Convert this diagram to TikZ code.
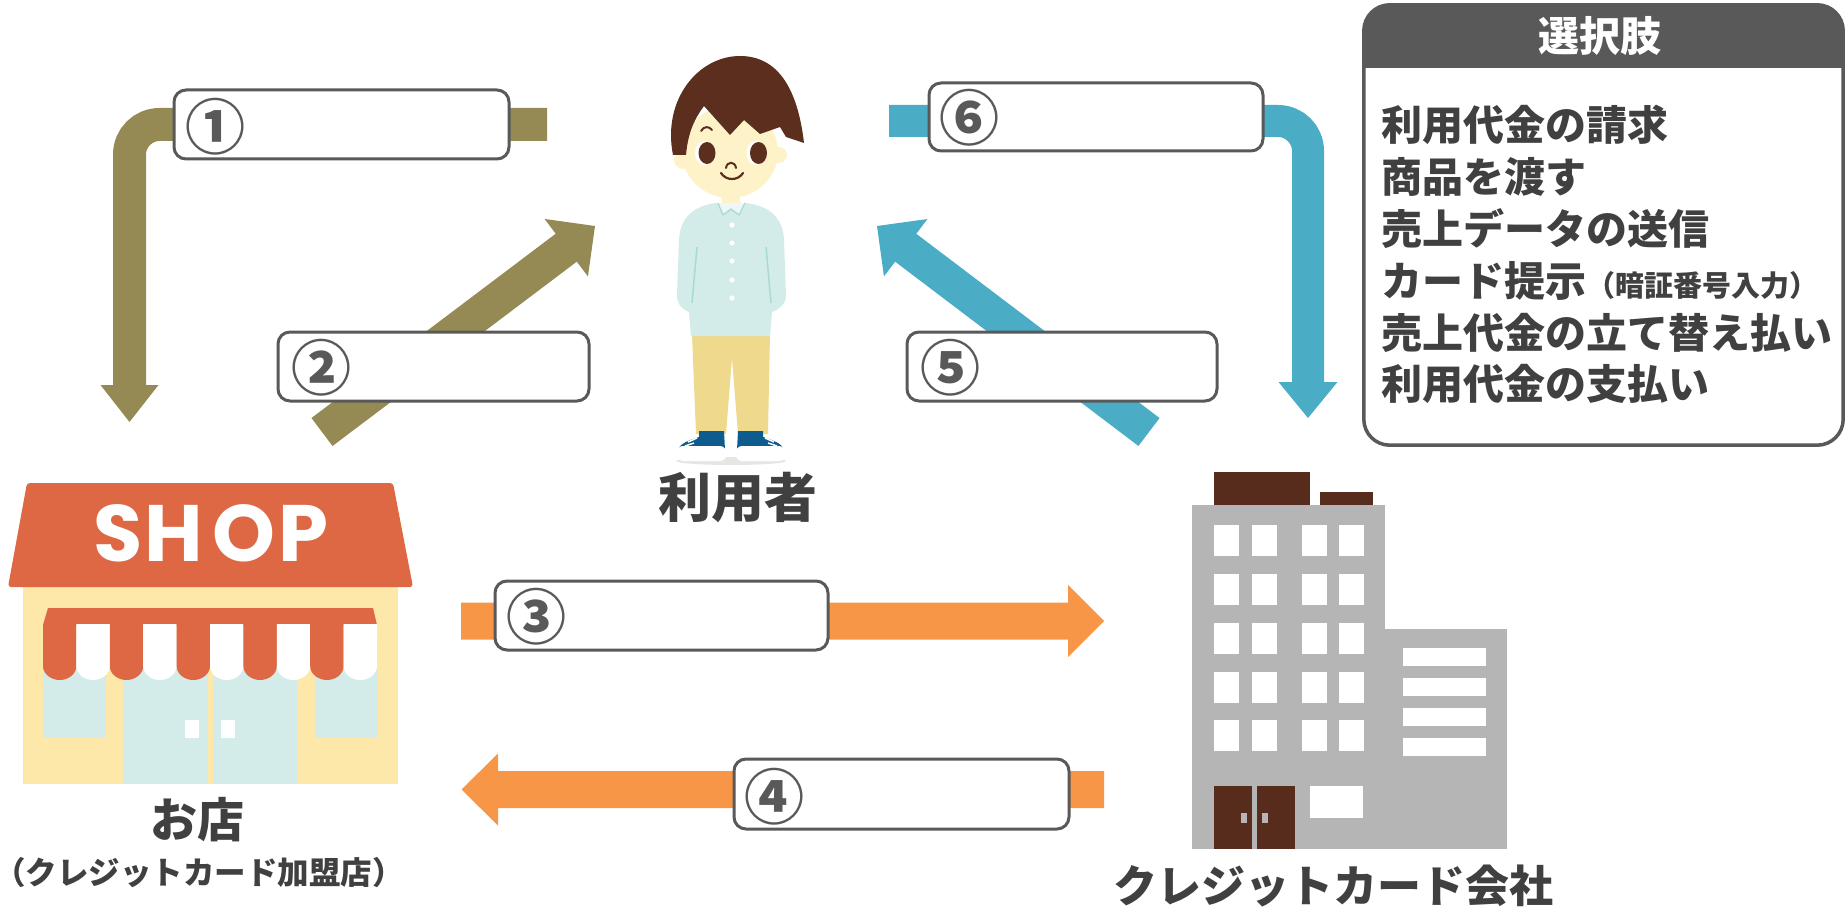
\documentclass[tikz,border=0pt]{standalone}
\usepackage{fontspec}
\usetikzlibrary{calc}
\newfontfamily\jpfont{Noto Sans CJK JP}
\newfontfamily\shopfont{Poppins}

\definecolor{txtgray}{HTML}{404040}
\definecolor{boxgray}{HTML}{595959}
\definecolor{olivearrow}{HTML}{958A53}
\definecolor{bluearrow}{HTML}{4BACC6}
\definecolor{orangearrow}{HTML}{F79646}
\definecolor{shopred}{HTML}{DE6744}
\definecolor{shopwall}{HTML}{FDE7A9}
\definecolor{glass}{HTML}{D4ECE9}
\definecolor{bldgray}{HTML}{B4B5B4}
\definecolor{bldbrown}{HTML}{572C1D}
\definecolor{hair}{HTML}{5B2E1E}
\definecolor{skin}{HTML}{FEF3C8}
\definecolor{shirt}{HTML}{D4ECE9}
\definecolor{shirtline}{HTML}{A9D9D3}
\definecolor{pants}{HTML}{EED98D}
\definecolor{shoe}{HTML}{0E5B8E}
\definecolor{floorshade}{HTML}{E8E6E3}

% straight block arrow: colour, tail, tip, half shaft, half head, head length
\newcommand\fatarrow[6]{%
  \fill[#1] ($(#2)!#4!90:(#3)$) -- ($(#3)!#6!(#2)!#4!90:(#3)$)
    -- ($(#3)!#6!(#2)!#5!90:(#3)$) -- (#3)
    -- ($(#3)!#6!(#2)!#5!-90:(#3)$) -- ($(#3)!#6!(#2)!#4!-90:(#3)$)
    -- ($(#2)!#4!-90:(#3)$) -- cycle;}

\tikzset{
  lbl/.style={font=\jpfont\bfseries, text=txtgray, inner sep=0pt},
  numbox/.style={draw=boxgray, line width=3pt, fill=white, rounded corners=12pt,
    inner sep=0pt, minimum height=69pt},
  circnum/.style={font=\jpfont\bfseries\fontsize{60}{60}\selectfont, text=boxgray, inner sep=0pt},
  optline/.style={font=\jpfont\bfseries\fontsize{41}{41}\selectfont, text=txtgray,
    inner sep=0pt, anchor=west},
  shopletter/.style={font=\shopfont\bfseries\fontsize{80}{80}\selectfont, text=white, inner sep=0pt},
}

\begin{document}
\begin{tikzpicture}[x=1pt,y=-1pt]
\useasboundingbox (0,0) rectangle (1845,923);

% ---------- arrows ----------
% 1: user -> shop (bent)
\coordinate (a1s) at (547,124.5);
\coordinate (a1c) at (129.5,124.5);
\coordinate (a1b) at (129.5,386);
\coordinate (a1t) at (129.5,422);
\draw[olivearrow, line width=33pt, rounded corners=30pt] (a1s) -- (a1c) -- (a1b);
\fill[olivearrow] ($(a1b)+(-29,-1)$) -- ($(a1b)+(29,-1)$) -- (a1t) -- cycle;

% 2: shop -> user
\coordinate (a2s) at (322,432);
\coordinate (a2t) at (595,226);
\fatarrow{olivearrow}{a2s}{a2t}{17.5pt}{36pt}{36pt}

% 3: shop -> card company
\coordinate (a3s) at (461,621);
\coordinate (a3t) at (1104,621);
\fatarrow{orangearrow}{a3s}{a3t}{18.5pt}{36pt}{36pt}

% 4: card company -> shop
\coordinate (a4s) at (1104,789.5);
\coordinate (a4t) at (461.5,789.5);
\fatarrow{orangearrow}{a4s}{a4t}{18.5pt}{36pt}{36.5pt}

% 5: card company -> user
\coordinate (a5s) at (1149,432);
\coordinate (a5t) at (877,226);
\fatarrow{bluearrow}{a5s}{a5t}{17.5pt}{36pt}{36pt}

% 6: card company -> user (bent)
\coordinate (a6s) at (889,121);
\coordinate (a6c) at (1308,121);
\coordinate (a6b) at (1308,383);
\coordinate (a6t) at (1308,418);
\draw[bluearrow, line width=32pt, rounded corners=30pt] (a6s) -- (a6c) -- (a6b);
\fill[bluearrow] ($(a6b)+(-29.5,-1)$) -- ($(a6b)+(29.5,-1)$) -- (a6t) -- cycle;

% ---------- answer boxes ----------
\node[numbox, minimum width=335pt] (b1) at (341.5,124.5) {};
\node[numbox, minimum width=311pt] (b2) at (433.5,366.5) {};
\node[numbox, minimum width=333pt] (b3) at (661.5,615.5) {};
\node[numbox, minimum width=335pt, minimum height=70pt] (b4) at (901.5,794) {};
\node[numbox, minimum width=310pt] (b5) at (1062,366.5) {};
\node[numbox, minimum width=334pt, minimum height=68pt] (b6) at (1096,117) {};
\node[circnum] (n1) at ($(b1.west)+(43,2.5)$) {①};
\node[circnum] (n2) at ($(b2.west)+(45,1.5)$) {②};
\node[circnum] (n3) at ($(b3.west)+(43,1.5)$) {③};
\node[circnum] (n4) at ($(b4.west)+(42,3)$) {④};
\node[circnum] (n5) at ($(b5.west)+(45,1.5)$) {⑤};
\node[circnum] (n6) at ($(b6.west)+(42,1)$) {⑥};

% ---------- shop ----------
\fill[shopwall] (23,585) rectangle (398,784);
\fill[glass] (43,640) rectangle (106,738);
\fill[glass] (315,640) rectangle (378,738);
\fill[glass] (123,640) rectangle (297,784);
\fill[shopwall] (208,640) rectangle (213,784);
\fill[white] (185,720) rectangle (199,738);
\fill[white] (221,720) rectangle (235,738);
% awning
\fill[shopred] (48,608) -- (373,608) -- (377,625) -- (43,625) -- cycle;
\foreach \i in {0,...,9} {
  \pgfmathsetmacro\xa{43+33.4*\i}
  \pgfmathsetmacro\xb{\xa+33.4}
  \pgfmathsetmacro\xm{\xa+16.7}
  \ifodd\i \def\stripecol{white}\else\def\stripecol{shopred}\fi
  \fill[\stripecol] (\xa,624) -- (\xa,666) .. controls (\xa,674) and (\xa+8,680) .. (\xm,680)
    .. controls (\xb-8,680) and (\xb,674) .. (\xb,666) -- (\xb,624) -- cycle;
}
% roof with sign
\fill[shopred, rounded corners=3pt] (27,483) -- (393,483) -- (413,587) -- (8,587) -- cycle;
\node[shopletter] (sS) at (118,533) {S};
\node[shopletter] (sH) at (174,533) {H};
\node[shopletter] (sO) at (244,533) {O};
\node[shopletter] (sP) at (303,533) {P};
\node[lbl, font=\jpfont\bfseries\fontsize{47}{47}\selectfont] (shopname) at (197,820) {お店};
\node[lbl, font=\jpfont\bfseries\fontsize{31.5}{31.5}\selectfont] (shopsub) at (199,873) {（クレジットカード加盟店）};

% ---------- card company building ----------
\fill[bldbrown] (1214,472) rectangle (1310,506);
\fill[bldbrown] (1320,492) rectangle (1373,506);
\fill[bldgray] (1192,505) rectangle (1385,849);
\fill[bldgray] (1384,629) rectangle (1507,849);
\foreach \wx in {1214,1252,1302,1339}
  \foreach \wy in {525,574,623,672,720}
    \fill[white] (\wx,\wy) rectangle ++(24.5,31);
\foreach \wy in {648,678,708,738}
  \fill[white] (1403,\wy) rectangle ++(83,18);
\fill[bldbrown] (1214,786) rectangle (1252,849);
\fill[bldbrown] (1257,786) rectangle (1295,849);
\fill[bldgray] (1241,813) rectangle ++(6,10);
\fill[bldgray] (1262,813) rectangle ++(6,10);
\fill[white] (1310,786) rectangle (1363,818);
\node[lbl, font=\jpfont\bfseries\fontsize{44}{44}\selectfont] (cardname) at (1333,886) {クレジットカード会社};

% ---------- user ----------
\fill[floorshade] (731,461) ellipse [x radius=55, y radius=4];
% legs
\fill[pants] (692,334) -- (770,334) -- (768,434) -- (738,434) -- (732,358) -- (726,434) -- (696,434) -- cycle;
% shoes
\fill[shoe] (699,431) -- (724,431) -- (725,450) -- (678,450)
  .. controls (680,443) and (690,440) .. (699,437) -- cycle;
\fill[shoe] (763,431) -- (738,431) -- (737,450) -- (784,450)
  .. controls (782,443) and (772,440) .. (763,437) -- cycle;
\fill[white, rounded corners=6pt] (677,446) rectangle (726,461);
\fill[white, rounded corners=6pt] (736,446) rectangle (785,461);
\draw[white, line width=1.5pt] (688,442) -- (697,438) (685,446) -- (694,443);
\draw[white, line width=1.5pt] (774,442) -- (765,438) (777,446) -- (768,443);
% shirt
\fill[skin] (722,194) rectangle (740,206);
\fill[shirt] (716,203) -- (746,203) .. controls (770,206) and (783,218) .. (784,240)
  -- (786,295) .. controls (786,305) and (778,310) .. (772,312)
  -- (770,336) -- (691,336) -- (689,312)
  .. controls (683,310) and (677,305) .. (677,295)
  -- (679,240) .. controls (680,218) and (693,206) .. (716,203) -- cycle;
\draw[shirtline, line width=1.5pt] (697,247) -- (692,303);
\draw[shirtline, line width=1.5pt] (766,247) -- (771,303);
\draw[shirtline, line width=1.3pt, line join=round, fill=white!60!shirt]
  (718,203) -- (723,215) -- (731,209) -- (739,215) -- (745,203);
\foreach \by in {225,243,261,280,298}
  \fill[white] (732,\by) circle [radius=2.6];
% head
\fill[skin] (683,160) circle [radius=9];
\fill[skin] (779,155) circle [radius=8];
\fill[skin] (730,152) ellipse [x radius=48, y radius=46];
\fill[hair] (673,155) .. controls (662,100) and (698,56) .. (740,56)
  .. controls (784,56) and (799,100) .. (804,143)
  -- (786,137) -- (780,127) -- (760,134) -- (744,120) -- (730,135)
  -- (704,106) .. controls (695,118) and (688,132) .. (686,155) -- cycle;
\fill[white] (704.5,153) ellipse [x radius=9.5, y radius=12];
\fill[hair] (707,153) ellipse [x radius=8.5, y radius=11];
\fill[white] (756,153) ellipse [x radius=9.5, y radius=12];
\fill[hair] (758.5,153) ellipse [x radius=8.5, y radius=11];
\draw[hair, line width=2pt, line cap=round] (701,131) .. controls (704,126) and (709,126) .. (712,130);
\draw[hair, line width=2pt, line cap=round] (726,168) .. controls (727,161) and (735,161) .. (736,168);
\draw[hair, line width=2.2pt, line cap=round] (721,173) .. controls (726,181) and (738,181) .. (743,173);
\node[lbl, font=\jpfont\bfseries\fontsize{53}{53}\selectfont] (username) at (738,498) {利用者};

% ---------- choices panel ----------
\node[fill=white, rounded corners=26pt, minimum width=479pt, minimum height=440pt, inner sep=0pt] (optbox) at (1603.5,225) {};
\begin{scope}
  \clip (1355,0) rectangle (1850,68);
  \fill[boxgray, rounded corners=26pt] (optbox.north west) rectangle (optbox.south east);
\end{scope}
\draw[boxgray, line width=3.5pt, rounded corners=26pt] (optbox.north west) rectangle (optbox.south east);
\node[inner sep=0pt, text=white, font=\jpfont\bfseries\fontsize{41}{41}\selectfont] (opttitle) at (1600,36) {選択肢};
\node[optline] (o1) at (1381,125) {利用代金の請求};
\node[optline] (o2) at (1381,177) {商品を渡す};
\node[optline] (o3) at (1381,229) {売上データの送信};
\node[optline] (o4) at (1381,281) {カード提示{\fontsize{29}{29}\selectfont（暗証番号入力）}};
\node[optline] (o5) at (1381,333) {売上代金の立て替え払い};
\node[optline] (o6) at (1381,384) {利用代金の支払い};
\end{tikzpicture}
\end{document}
